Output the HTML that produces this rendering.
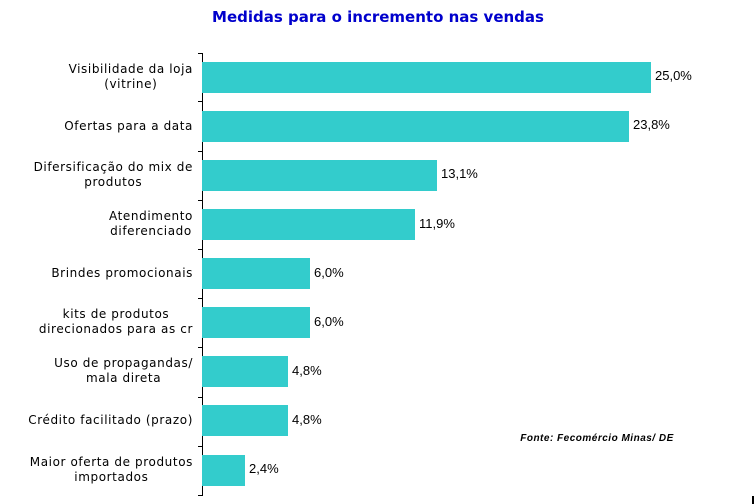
<!DOCTYPE html><html><head><meta charset="utf-8"><style>
body{margin:0;width:756px;height:504px;background:#fff;overflow:hidden;position:relative;font-family:"DejaVu Sans","Liberation Sans",sans-serif}
.t{position:absolute;left:0;width:756px;top:8px;text-align:center;color:#0000cc;font:bold 15px "DejaVu Sans",sans-serif}
.l{position:absolute;right:563px;width:200px;text-align:right;font-size:12px;letter-spacing:0.6px;line-height:15px;color:#000}
.l span{display:inline-block;text-align:center}
.b{position:absolute;left:202px;background:#33cccc;height:31px}
.v{position:absolute;font:13px "Liberation Sans",sans-serif;color:#000}
.k{position:absolute;left:198px;width:4px;height:1px;background:#000}
</style></head><body>
<div class="t">Medidas para o incremento nas vendas</div>
<div style="position:absolute;left:202px;top:53px;width:1px;height:443px;background:#000"></div>
<div class="k" style="top:53px"></div><div class="k" style="top:101px"></div><div class="k" style="top:151px"></div><div class="k" style="top:200px"></div><div class="k" style="top:249px"></div><div class="k" style="top:298px"></div><div class="k" style="top:347px"></div><div class="k" style="top:397px"></div><div class="k" style="top:446px"></div><div class="k" style="top:495px"></div>
<div class="b" style="top:62px;width:449px"></div><div class="v" style="left:655px;top:68px">25,0%</div>
<div class="b" style="top:111px;width:427px"></div><div class="v" style="left:633px;top:117px">23,8%</div>
<div class="b" style="top:160px;width:235px"></div><div class="v" style="left:441px;top:166px">13,1%</div>
<div class="b" style="top:209px;width:213px"></div><div class="v" style="left:419px;top:216px">11,9%</div>
<div class="b" style="top:258px;width:108px"></div><div class="v" style="left:314px;top:265px">6,0%</div>
<div class="b" style="top:307px;width:108px"></div><div class="v" style="left:314px;top:314px">6,0%</div>
<div class="b" style="top:356px;width:86px"></div><div class="v" style="left:292px;top:363px">4,8%</div>
<div class="b" style="top:405px;width:86px"></div><div class="v" style="left:292px;top:412px">4,8%</div>
<div class="b" style="top:455px;width:43px"></div><div class="v" style="left:249px;top:461px">2,4%</div>
<div class="l" style="top:62px"><span>Visibilidade da loja<br>(vitrine)</span></div>
<div class="l" style="top:119px"><span>Ofertas para a data</span></div>
<div class="l" style="top:160px"><span>Difersificação do mix de<br>produtos</span></div>
<div class="l" style="top:209px"><span>Atendimento<br>diferenciado</span></div>
<div class="l" style="top:266px"><span>Brindes promocionais</span></div>
<div class="l" style="top:307px"><span>kits de produtos<br>direcionados para as cr</span></div>
<div class="l" style="top:356px"><span>Uso de propagandas/<br>mala direta</span></div>
<div class="l" style="top:413px"><span>Crédito facilitado (prazo)</span></div>
<div class="l" style="top:455px"><span>Maior oferta de produtos<br>importados</span></div>
<div style="position:absolute;left:482px;top:433px;width:230px;text-align:center;font:italic bold 10px 'Liberation Sans',sans-serif;letter-spacing:0.5px;color:#000">Fonte: Fecomércio Minas/ DE</div>
<div style="position:absolute;left:752px;top:496px;width:2px;height:8px;background:#000"></div>
</body></html>
